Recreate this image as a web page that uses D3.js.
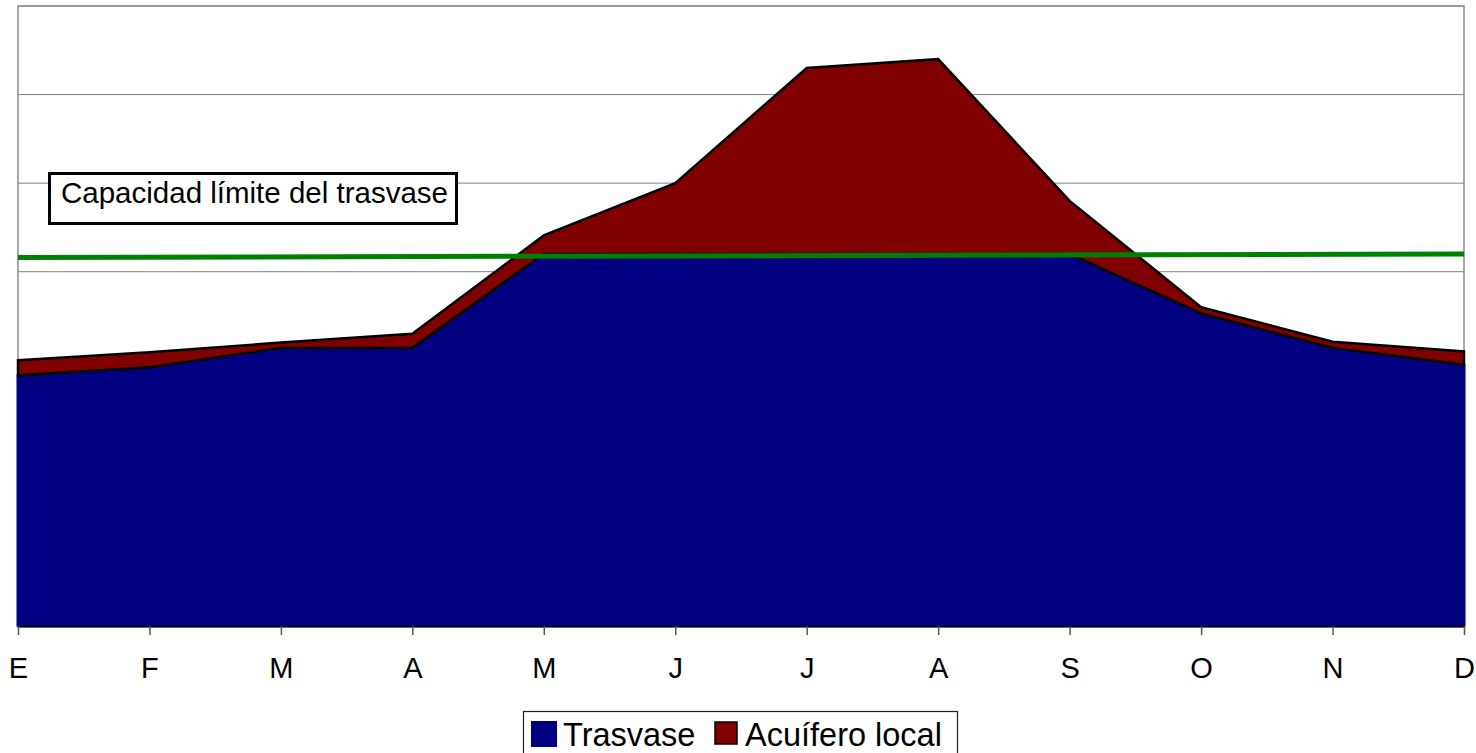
<!DOCTYPE html>
<html>
<head>
<meta charset="utf-8">
<script src="https://cdn.jsdelivr.net/npm/d3@7"></script>
<style>
  html, body { margin: 0; padding: 0; background: #fff; }
  svg { display: block; font-family: "Liberation Sans", Arial, sans-serif; }
</style>
</head>
<body>
<svg id="chart" width="1476" height="753"></svg>
<script>
// Monthly supply, stacked: transfer water plus local aquifer on top
const months = ["E", "F", "M", "A", "M", "J", "J", "A", "S", "O", "N", "D"];
const trasvase = [2.83, 2.92, 3.14, 3.14, 4.2, 4.2, 4.2, 4.2, 4.2, 3.53, 3.14, 2.95];
const acuifero = [0.17, 0.17, 0.06, 0.16, 0.21, 0.8, 2.1, 2.2, 0.6, 0.07, 0.07, 0.15];
// Transfer capacity limit line (value at January end, value at December end)
const capacidad = [4.16, 4.2];
const yTicks = [0, 1, 2, 3, 4, 5, 6, 7];
const seriesNames = ["Trasvase", "Acuífero local"];
const seriesColors = ["#000080", "#800000"];

const svg = d3.select("#chart");
const plotL = 18, plotR = 1464, plotT = 6, plotB = 626;

const x = d3.scalePoint().domain(d3.range(months.length)).range([plotL, plotR]);
const y = d3.scaleLinear().domain([0, 7]).range([plotB, plotT]);

const rows = months.map((m, i) => ({ i, t: trasvase[i], a: acuifero[i] }));
const stacked = d3.stack().keys(["t", "a"])(rows);

// gridlines
svg.append("g")
  .selectAll("line")
  .data(yTicks.slice(1))
  .join("line")
  .attr("x1", plotL).attr("x2", plotR)
  .attr("y1", d => y(d)).attr("y2", d => y(d))
  .attr("stroke", "#808080").attr("stroke-width", 1);

// plot frame (top, left, right)
svg.append("path")
  .attr("d", `M${plotL},${plotB}V${plotT}H${plotR}V${plotB}`)
  .attr("fill", "none").attr("stroke", "#8c8c8c").attr("stroke-width", 1.5);

const area = d3.area()
  .x(d => x(d.data.i))
  .y0(d => y(d[0]))
  .y1(d => y(d[1]));

// Trasvase area
svg.append("path")
  .datum(stacked[0])
  .attr("d", area)
  .attr("fill", seriesColors[0])
  .attr("stroke", seriesColors[0])
  .attr("stroke-width", 3)
  .attr("stroke-linejoin", "round");

// Acuífero local area
svg.append("path")
  .datum(stacked[1])
  .attr("d", area)
  .attr("fill", seriesColors[1])
  .attr("stroke", "#000")
  .attr("stroke-width", 2.5)
  .attr("stroke-linejoin", "miter");

// x axis
const xAxis = d3.axisBottom(x)
  .tickFormat(i => months[i])
  .tickSizeInner(9).tickSizeOuter(0).tickPadding(22);
const gx = svg.append("g").attr("transform", `translate(0,${plotB})`).call(xAxis);
gx.select(".domain").attr("stroke", "#000").attr("stroke-width", 1.5);
gx.selectAll(".tick line").attr("stroke", "#555").attr("stroke-width", 1.5);
gx.selectAll(".tick text")
  .attr("font-family", "Liberation Sans, Arial, sans-serif")
  .attr("font-size", 29).attr("fill", "#000");

// capacity limit line
const capX = d3.scaleLinear().domain([0, 1]).range([plotL, plotR]);
svg.append("line")
  .attr("x1", capX(0)).attr("x2", capX(1))
  .attr("y1", y(capacidad[0])).attr("y2", y(capacidad[1]))
  .attr("stroke", "#008000").attr("stroke-width", 5);

// label box
const lab = svg.append("g");
lab.append("rect")
  .attr("x", 49.5).attr("y", 173.5).attr("width", 407).attr("height", 50)
  .attr("fill", "#fff").attr("stroke", "#000").attr("stroke-width", 3);
lab.append("text")
  .attr("x", 61).attr("y", 203)
  .attr("font-size", 29.5).attr("fill", "#000")
  .text("Capacidad límite del trasvase");

// legend
const lg = svg.append("g");
lg.append("rect")
  .attr("x", 523.5).attr("y", 711.5).attr("width", 434).attr("height", 60)
  .attr("fill", "#fff").attr("stroke", "#222").attr("stroke-width", 1.2);
const legendItems = [
  { sq: 531, tx: 563 },
  { sq: 714, tx: 745 }
];
seriesNames.forEach((name, k) => {
  const it = legendItems[k];
  lg.append("rect")
    .attr("x", it.sq + (k ? 1 : 0)).attr("y", k ? 722 : 721)
    .attr("width", k ? 22 : 26).attr("height", k ? 22 : 26)
    .attr("fill", seriesColors[k])
    .attr("stroke", k ? "#000" : "none").attr("stroke-width", 1.5);
  lg.append("text")
    .attr("x", it.tx).attr("y", 746)
    .attr("font-size", 32.5).attr("fill", "#000")
    .text(name);
});
</script>
</body>
</html>
